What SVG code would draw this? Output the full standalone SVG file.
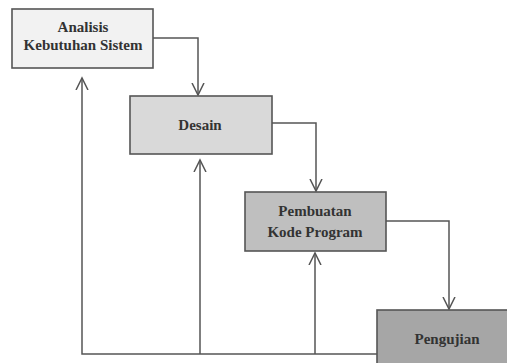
<svg xmlns="http://www.w3.org/2000/svg" width="507" height="363" viewBox="0 0 507 363">
<style>
.box{stroke:#555;stroke-width:1.6}
.lbl{font-family:'Liberation Serif',serif;font-weight:bold;font-size:15px;fill:#333;text-anchor:middle}
.con{fill:none;stroke:#555;stroke-width:1.5}
</style>
<defs>
<marker id="arr" markerWidth="14" markerHeight="14" refX="12" refY="7" orient="auto" markerUnits="userSpaceOnUse">
<path d="M0,1 L12,7 L0,13" fill="none" stroke="#555" stroke-width="1.5"/>
</marker>
</defs>
<rect width="507" height="363" fill="#fff"/>
<g id="connectors">
<path class="con" d="M153,38 H198 V95" marker-end="url(#arr)"/>
<path class="con" d="M272,123 H316 V191" marker-end="url(#arr)"/>
<path class="con" d="M386,221 H449 V309" marker-end="url(#arr)"/>
<path class="con" d="M377,354 H82 V78" marker-end="url(#arr)"/>
<path class="con" d="M200,354 V160" marker-end="url(#arr)"/>
<path class="con" d="M315,354 V253" marker-end="url(#arr)"/>
</g>
<g id="analisis">
<rect class="box" x="12" y="9" width="141" height="59" fill="#f2f2f2"/>
<text class="lbl" x="83" y="32">Analisis</text>
<text class="lbl" x="83" y="49.5">Kebutuhan Sistem</text>
</g>
<g id="desain">
<rect class="box" x="130" y="96" width="142" height="58" fill="#d9d9d9"/>
<text class="lbl" x="200" y="130">Desain</text>
</g>
<g id="pembuatan">
<rect class="box" x="245" y="192" width="141" height="59" fill="#bfbfbf"/>
<text class="lbl" x="315" y="216">Pembuatan</text>
<text class="lbl" x="315" y="237">Kode Program</text>
</g>
<g id="pengujian">
<rect class="box" x="377" y="310" width="140" height="60" fill="#a6a6a6"/>
<text class="lbl" x="447" y="344">Pengujian</text>
</g>
</svg>
